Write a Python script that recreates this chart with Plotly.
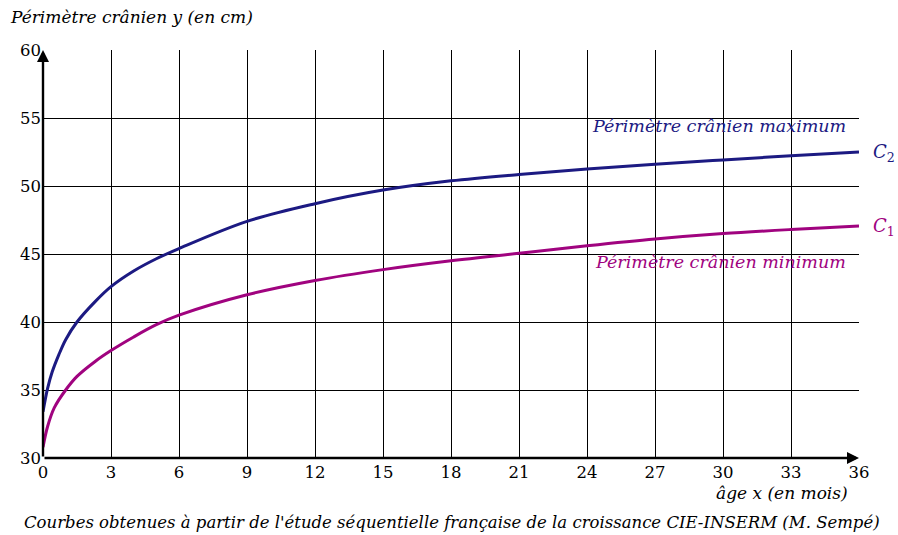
import plotly.graph_objects as go

# --- data ---
age_max = [0, 0.2, 0.4, 0.7, 1, 1.5, 2.3, 3, 4, 5, 6, 9, 12, 15, 18, 21, 24, 27, 30, 33, 36]
perim_max = [33.4, 35.1, 36.3, 37.6, 38.7, 40.0, 41.5, 42.6, 43.75, 44.65, 45.4, 47.4, 48.7,
             49.7, 50.38, 50.85, 51.25, 51.6, 51.92, 52.22, 52.5]

age_min = [0, 0.2, 0.5, 1, 1.5, 2.3, 3, 4, 5, 6, 9, 12, 15, 18, 21, 24, 27, 30, 33, 36]
perim_min = [30.8, 32.3, 33.7, 35.0, 36.0, 37.1, 37.9, 38.9, 39.8, 40.5, 42.0, 43.05, 43.85,
             44.5, 45.05, 45.6, 46.1, 46.5, 46.8, 47.05]

x_ticks = [0, 3, 6, 9, 12, 15, 18, 21, 24, 27, 30, 33, 36]
y_ticks = [30, 35, 40, 45, 50, 55, 60]
x_grid = [3, 6, 9, 12, 15, 18, 21, 24, 27, 30, 33]
y_grid = [35, 40, 45, 50, 55]

BLUE = "#1c1a82"
MAG = "#a0037f"
FONT = "DejaVu Serif"

fig = go.Figure()
fig.add_trace(go.Scatter(x=age_max, y=perim_max, mode="lines", xaxis="x", yaxis="y",
                         line=dict(color=BLUE, width=3, shape="spline", smoothing=1.0),
                         showlegend=False, hoverinfo="skip"))
fig.add_trace(go.Scatter(x=age_min, y=perim_min, mode="lines", xaxis="x2", yaxis="y2",
                         line=dict(color=MAG, width=3, shape="spline", smoothing=1.0),
                         showlegend=False, hoverinfo="skip"))

annotations = [
    # axes with arrows
    dict(x=36, y=30, ax=0, ay=30, xref="x", yref="y", axref="x", ayref="y", text="",
         showarrow=True, arrowhead=2, arrowsize=1, arrowwidth=2.4, arrowcolor="black"),
    dict(x=0, y=60, ax=0, ay=30, xref="x", yref="y", axref="x", ayref="y", text="",
         showarrow=True, arrowhead=2, arrowsize=1, arrowwidth=2.4, arrowcolor="black"),
    # titles
    dict(x=-0.0429, y=1.081, xref="paper", yref="paper", xanchor="left", yanchor="middle",
         text="<i>Périmètre crânien y (en cm)</i>", showarrow=False,
         font=dict(family=FONT, size=17, color="black")),
    dict(x=0.989, y=-0.085, xref="paper", yref="paper", xanchor="right", yanchor="middle",
         text="<i>âge x (en mois)</i>", showarrow=False,
         font=dict(family=FONT, size=17, color="black")),
    dict(x=0.501, y=-0.157, xref="paper", yref="paper", xanchor="center", yanchor="middle",
         text="<i>Courbes obtenues à partir de l'étude séquentielle française de la croissance CIE-INSERM (M. Sempé)</i>",
         showarrow=False, font=dict(family=FONT, size=16.5, color="black")),
    # curve labels
    dict(x=35.5, y=54.4, xref="x", yref="y", xanchor="right", yanchor="middle",
         text="<i>Périmètre crânien maximum</i>", showarrow=False,
         font=dict(family=FONT, size=17.5, color=BLUE)),
    dict(x=35.5, y=44.4, xref="x", yref="y", xanchor="right", yanchor="middle",
         text="<i>Périmètre crânien minimum</i>", showarrow=False,
         font=dict(family=FONT, size=17.5, color=MAG)),
    dict(x=1.015, y=52.4, xref="paper", yref="y", xanchor="left", yanchor="middle",
         text="<i>C</i><sub>2</sub>", showarrow=False,
         font=dict(family=FONT, size=18, color=BLUE)),
    dict(x=1.015, y=47.0, xref="paper", yref="y", xanchor="left", yanchor="middle",
         text="<i>C</i><sub>1</sub>", showarrow=False,
         font=dict(family=FONT, size=18, color=MAG)),
]

tickfont = dict(family=FONT, size=16.5, color="black")
fig.update_layout(
    width=898, height=535,
    margin=dict(l=43, r=39, t=50, b=77),
    paper_bgcolor="white", plot_bgcolor="white",
    annotations=annotations,
    xaxis=dict(range=[0, 36], tickvals=x_ticks, ticktext=[str(v) for v in x_ticks],
               showgrid=False, zeroline=False, showline=False, ticks="", automargin=False,
               ticklabelstandoff=2, tickfont=tickfont, fixedrange=True),
    yaxis=dict(range=[30, 60], tickvals=y_ticks, ticktext=[str(v) for v in y_ticks],
               showgrid=False, zeroline=False, showline=False, ticks="", automargin=False,
               ticklabelstandoff=1, tickfont=tickfont, fixedrange=True),
    xaxis2=dict(range=[0, 36], overlaying="x", anchor="y2", tickvals=x_grid,
                showgrid=True, gridcolor="black", gridwidth=1, showticklabels=False,
                zeroline=False, showline=False, ticks="", automargin=False, fixedrange=True),
    yaxis2=dict(range=[30, 60], overlaying="y", anchor="x2", tickvals=y_grid,
                showgrid=True, gridcolor="black", gridwidth=1, showticklabels=False,
                zeroline=False, showline=False, ticks="", automargin=False, fixedrange=True),
)

# remove the browser's default 8px page margin so the figure fills the window exactly
fig.write_html("out.html",
               config={"displayModeBar": False},
               post_script="document.body.style.margin='0';"
                           "document.documentElement.style.overflow='hidden';")
